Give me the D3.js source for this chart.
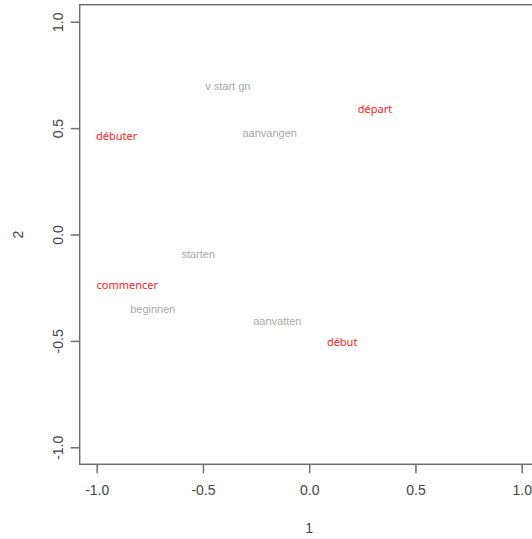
<!DOCTYPE html>
<html>
<head>
<meta charset="utf-8">
<script src="https://cdn.jsdelivr.net/npm/d3@7"></script>
<style>
  body { margin: 0; background: #fff; }
  svg { display: block; }
</style>
</head>
<body>
<svg width="532" height="539"></svg>
<script>
// word positions in the 2-d solution (dim 1, dim 2)
const frenchWords = ['débuter', 'départ', 'commencer', 'début'];
const frenchX = [-0.906, 0.31, -0.856, 0.155];
const frenchY = [0.466, 0.591, -0.237, -0.502];

const dutchWords = ['v start gn', 'aanvangen', 'starten', 'beginnen', 'aanvatten'];
const dutchX = [-0.383, -0.186, -0.522, -0.736, -0.15];
const dutchY = [0.696, 0.475, -0.091, -0.35, -0.408];

const tickValues = [-1.0, -0.5, 0.0, 0.5, 1.0];

const svg = d3.select('svg');

// R style: data range [-1, 1] padded by 4%
const x = d3.scaleLinear().domain([-1.08, 1.08]).range([79.7, 538.7]);
const y = d3.scaleLinear().domain([-1.08, 1.08]).range([464.3, 4.7]);

const axisColor = '#6e6e6e';
const textColor = '#444';

svg
  .append('rect')
  .attr('x', x(-1.08))
  .attr('y', y(1.08))
  .attr('width', x(1.08) - x(-1.08))
  .attr('height', y(-1.08) - y(1.08))
  .attr('fill', 'none')
  .attr('stroke', axisColor)
  .attr('stroke-width', 1.5);

// plain hyphen for negatives, like R
const fmt = d => d.toFixed(1);

const gx = svg
  .append('g')
  .attr('transform', `translate(0, ${y(-1.08)})`)
  .call(d3.axisBottom(x).tickValues(tickValues).tickSize(9).tickPadding(12).tickFormat(fmt));
gx.select('.domain').remove();
gx.selectAll('line').attr('stroke', axisColor).attr('stroke-width', 1.5);
gx.selectAll('text')
  .attr('fill', textColor)
  .style('font-family', 'Liberation Sans, Arial, sans-serif')
  .style('font-size', '14px');

const gy = svg
  .append('g')
  .attr('transform', `translate(${x(-1.08)}, 0)`)
  .call(d3.axisLeft(y).tickValues(tickValues).tickSize(9).tickFormat(fmt));
gy.select('.domain').remove();
gy.selectAll('line').attr('stroke', axisColor).attr('stroke-width', 1.5);
gy.selectAll('text')
  .attr('fill', textColor)
  .attr('x', null)
  .attr('dy', null)
  .attr('transform', 'translate(-22, 0) rotate(-90)')
  .attr('text-anchor', 'middle')
  .attr('dominant-baseline', 'central')
  .style('font-family', 'Liberation Sans, Arial, sans-serif')
  .style('font-size', '14px');

// axis titles
svg
  .append('text')
  .attr('x', x(0))
  .attr('y', 533)
  .attr('text-anchor', 'middle')
  .attr('fill', textColor)
  .style('font-family', 'Liberation Sans, Arial, sans-serif')
  .style('font-size', '14px')
  .text('1');

svg
  .append('text')
  .attr('transform', `translate(18, ${y(0)}) rotate(-90)`)
  .attr('text-anchor', 'middle')
  .attr('dominant-baseline', 'central')
  .attr('fill', textColor)
  .style('font-family', 'Liberation Sans, Arial, sans-serif')
  .style('font-size', '14px')
  .text('2');

// dutch words, grey
svg
  .append('g')
  .selectAll('text')
  .data(dutchWords)
  .join('text')
  .attr('x', (d, i) => x(dutchX[i]))
  .attr('y', (d, i) => y(dutchY[i]))
  .attr('text-anchor', 'middle')
  .attr('dominant-baseline', 'central')
  .attr('fill', '#a8a8a8')
  .style('font-family', 'Liberation Sans, Arial, sans-serif')
  .style('font-size', '11px')
  .text(d => d);

// french words, red
svg
  .append('g')
  .selectAll('text')
  .data(frenchWords)
  .join('text')
  .attr('x', (d, i) => x(frenchX[i]))
  .attr('y', (d, i) => y(frenchY[i]))
  .attr('text-anchor', 'middle')
  .attr('dominant-baseline', 'central')
  .attr('fill', '#ff1a1a')
  .style('font-family', 'Noto Sans, sans-serif')
  .style('font-size', '11px')
  .text(d => d);
</script>
</body>
</html>
